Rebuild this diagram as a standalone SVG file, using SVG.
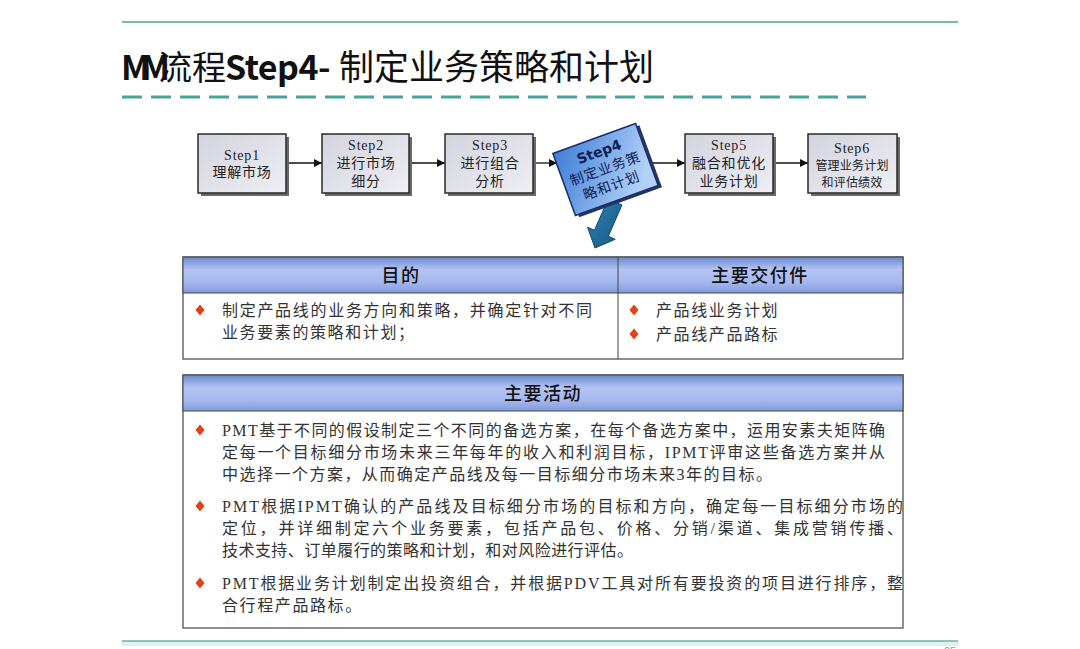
<svg xmlns="http://www.w3.org/2000/svg" width="1080" height="649" viewBox="0 0 1080 649">
<style>
.step{fill:url(#stepGrad);stroke:#2a2a2a;stroke-width:1.5}
.shadow{fill:#6a6a6a}
.st{font-family:"Liberation Serif","Noto Sans CJK SC",serif;font-size:14px;fill:#222;text-anchor:middle;letter-spacing:0.8px}
.conn{stroke:#111;stroke-width:1.3;fill:none;marker-end:url(#ah)}
.hdr{fill:url(#hdrGrad);stroke:#444;stroke-width:1}
.box{fill:#fff;stroke:#444;stroke-width:1.2}
.ht{font-family:"Noto Sans CJK SC","Noto Sans",sans-serif;font-size:18px;font-weight:500;fill:#111;text-anchor:middle;letter-spacing:1.5px}
.bt{font-family:"Liberation Serif","Noto Sans CJK SC",serif;font-size:16px;fill:#333}
.bt2{font-family:"Liberation Serif","Noto Sans CJK SC",serif;font-size:16px;fill:#333;letter-spacing:1.6px}
.dia{fill:#e0421a}
.teal{stroke:#4aa39b;fill:none}
</style>
<defs>
<linearGradient id="stepGrad" x1="0" y1="0" x2="1" y2="1">
<stop offset="0" stop-color="#d3d3de"/>
<stop offset="1" stop-color="#eeeef4"/>
</linearGradient>
<linearGradient id="s4Grad" x1="0" y1="0" x2="1" y2="0.6">
<stop offset="0" stop-color="#3d7dd6"/>
<stop offset="1" stop-color="#b2d0f8"/>
</linearGradient>
<linearGradient id="hdrGrad" x1="0" y1="0" x2="0" y2="1">
<stop offset="0" stop-color="#6b88cf"/>
<stop offset="0.35" stop-color="#b3c4f3"/>
<stop offset="0.7" stop-color="#a5b8ee"/>
<stop offset="1" stop-color="#819bdc"/>
</linearGradient>
<linearGradient id="arGrad" x1="0" y1="0" x2="1" y2="1">
<stop offset="0" stop-color="#2f82b8"/>
<stop offset="1" stop-color="#17597f"/>
</linearGradient>
<marker id="ah" viewBox="0 0 10 10" refX="10" refY="5" markerWidth="8" markerHeight="8" markerUnits="userSpaceOnUse" orient="auto">
<path d="M0,0 L10,5 L0,10 Z" fill="#111"/>
</marker>
<path id="dm" d="M0,-5.5 L4.5,0 L0,5.5 L-4.5,0 Z"/>
</defs>

<!-- decorative lines -->
<g id="frame">
<line class="teal" x1="122" y1="22" x2="958" y2="22" stroke-width="1.5"/>
<line class="teal" x1="122" y1="97" x2="866" y2="97" stroke-width="3" stroke-dasharray="20 9"/>
<rect x="122" y="641" width="836" height="5" fill="#dff0ee"/>
<line x1="122" y1="641" x2="958" y2="641" stroke="#6fb0aa" stroke-width="1.5"/>
<text x="944" y="655" font-family="Liberation Sans,sans-serif" font-size="11" fill="#6fb0aa">25</text>
</g>

<!-- title -->
<g id="title">
<text y="80" font-family="'Noto Sans CJK SC','Noto Sans',sans-serif" font-size="34" fill="#111">
<tspan x="121" font-weight="bold" letter-spacing="-9">MM</tspan><tspan x="158">流程</tspan><tspan x="225" font-weight="bold" letter-spacing="-0.5">Step4-</tspan><tspan x="339" font-size="35">制定业务策略和计划</tspan>
</text>
</g>

<!-- connectors -->
<g id="connectors">
<line class="conn" x1="286" y1="163" x2="322" y2="163"/>
<line class="conn" x1="409" y1="163" x2="445" y2="163"/>
<line class="conn" x1="533" y1="163" x2="557" y2="163"/>
<line class="conn" x1="650" y1="163" x2="685" y2="163"/>
<line class="conn" x1="773" y1="163" x2="808" y2="163"/>
<polygon points="608.1,199 621.9,205 608.3,236.3 615.2,239.3 595,248 587.6,227.3 594.5,230.3" fill="url(#arGrad)" stroke="#0f4466" stroke-width="1"/>
</g>

<g id="step1">
<rect class="shadow" x="201" y="137" width="88" height="59"/>
<rect class="step" x="198" y="134" width="88" height="59"/>
<text class="st" x="242" y="160">Step1</text>
<text class="st" x="242" y="177">理解市场</text>
</g>
<g id="step2">
<rect class="shadow" x="325" y="137" width="87" height="59"/>
<rect class="step" x="322" y="134" width="87" height="59"/>
<text class="st" x="366" y="150">Step2</text>
<text class="st" x="366" y="168">进行市场</text>
<text class="st" x="366" y="186">细分</text>
</g>
<g id="step3">
<rect class="shadow" x="448" y="137" width="88" height="59"/>
<rect class="step" x="445" y="134" width="88" height="59"/>
<text class="st" x="490" y="150">Step3</text>
<text class="st" x="490" y="168">进行组合</text>
<text class="st" x="490" y="186">分析</text>
</g>
<g id="step4" transform="translate(605.5,169.5) rotate(-20)">
<rect x="-41" y="-30" width="88" height="66" fill="#25356a"/>
<rect x="-44" y="-33" width="88" height="66" fill="url(#s4Grad)" stroke="#1c2c66" stroke-width="1.5"/>
<text x="0" y="-14" font-family="'DejaVu Sans','Noto Sans',sans-serif" font-size="14" font-weight="bold" fill="#0d1d55" text-anchor="middle">Step4</text>
<text class="st" x="0" y="4" style="fill:#0d1d55">制定业务策</text>
<text class="st" x="0" y="22" style="fill:#0d1d55">略和计划</text>
</g>
<g id="step5">
<rect class="shadow" x="688" y="137" width="88" height="59"/>
<rect class="step" x="685" y="134" width="88" height="59"/>
<text class="st" x="729" y="150">Step5</text>
<text class="st" x="729" y="168">融合和优化</text>
<text class="st" x="729" y="186">业务计划</text>
</g>
<g id="step6">
<rect class="shadow" x="811" y="137" width="89" height="59"/>
<rect class="step" x="808" y="134" width="89" height="59"/>
<text class="st" x="852" y="153">Step6</text>
<text class="st" x="852" y="170" style="font-size:12px;letter-spacing:0.2px">管理业务计划</text>
<text class="st" x="852" y="187" style="font-size:12px;letter-spacing:0.2px">和评估绩效</text>
</g>

<!-- purpose / deliverables table -->
<g id="table-goals">
<rect class="box" x="183" y="257" width="720" height="102"/>
<rect class="hdr" x="183" y="257" width="720" height="36"/>
<line x1="618" y1="257" x2="618" y2="359" stroke="#444" stroke-width="1"/>
<text class="ht" x="401" y="282">目的</text>
<text class="ht" x="760" y="282">主要交付件</text>
<use href="#dm" class="dia" x="200" y="310"/>
<text class="bt" x="222" y="316" textLength="370" lengthAdjust="spacing">制定产品线的业务方向和策略，并确定针对不同</text>
<text class="bt2" x="222" y="338">业务要素的策略和计划；</text>
<use href="#dm" class="dia" x="634" y="310"/>
<text class="bt2" x="656" y="316">产品线业务计划</text>
<use href="#dm" class="dia" x="634" y="334"/>
<text class="bt2" x="656" y="340">产品线产品路标</text>
</g>

<!-- main activities -->
<g id="table-activities">
<rect class="box" x="183" y="375" width="720" height="253"/>
<rect class="hdr" x="183" y="375" width="720" height="36"/>
<text class="ht" x="543" y="400">主要活动</text>
<use href="#dm" class="dia" x="200" y="430"/>
<text class="bt" x="222" y="436" textLength="663" lengthAdjust="spacing">PMT基于不同的假设制定三个不同的备选方案，在每个备选方案中，运用安素夫矩阵确</text>
<text class="bt" x="222" y="458" textLength="663" lengthAdjust="spacing">定每一个目标细分市场未来三年每年的收入和利润目标，IPMT评审这些备选方案并从</text>
<text class="bt" x="222" y="480" textLength="550" lengthAdjust="spacing">中选择一个方案，从而确定产品线及每一目标细分市场未来3年的目标。</text>
<use href="#dm" class="dia" x="200" y="506"/>
<text class="bt" x="222" y="512" textLength="681" lengthAdjust="spacing">PMT根据IPMT确认的产品线及目标细分市场的目标和方向，确定每一目标细分市场的</text>
<text class="bt" x="222" y="534" textLength="681" lengthAdjust="spacing">定位，并详细制定六个业务要素，包括产品包、价格、分销/渠道、集成营销传播、</text>
<text class="bt" x="222" y="556" textLength="411" lengthAdjust="spacing">技术支持、订单履行的策略和计划，和对风险进行评估。</text>
<use href="#dm" class="dia" x="200" y="583"/>
<text class="bt" x="222" y="589" textLength="681" lengthAdjust="spacing">PMT根据业务计划制定出投资组合，并根据PDV工具对所有要投资的项目进行排序，整</text>
<text class="bt2" x="222" y="611">合行程产品路标。</text>
</g>
</svg>
